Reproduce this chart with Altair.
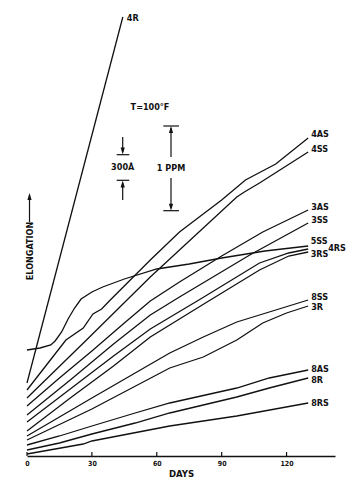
import altair as alt
import pandas as pd

# ---------------- data (elongation in arbitrary units, 84 units = 1 PPM) ----------------
days_4R = [0, 44.3]
elong_4R = [73, 439]
days_5SS = [0, 6, 11, 13, 16, 19, 22, 25, 30, 35, 45, 60, 75, 90, 110, 130]
elong_5SS = [106, 108, 111, 115, 124, 137, 148, 157, 164, 169, 177, 187, 192, 198, 205, 210]
days_4AS = [0, 9, 18, 26, 30.5, 34.5, 38.5, 57, 70.5, 90, 101, 115, 130]
elong_4AS = [66, 91, 116, 128, 142, 147, 156, 196, 224, 256, 276, 292, 318]
days_4SS = [0, 27.5, 57, 70.5, 97, 100.5, 107.5, 130]
elong_4SS = [58, 116, 179, 206, 259, 264, 273, 304]
days_3AS = [0, 15, 30, 45, 57, 70.5, 90, 109, 130]
elong_3AS = [50, 78, 105, 133, 155, 174, 200, 224, 246]
days_3SS = [0, 20, 40, 57, 70.5, 103, 130]
elong_3SS = [41, 76, 112, 141, 159, 201, 233]
days_4RS = [0, 20, 40, 57, 81, 107.5, 121, 130]
elong_4RS = [34, 67, 100, 127, 158, 193, 203, 207]
days_3RS = [0, 20, 40, 57, 81, 107.5, 121, 130]
elong_3RS = [25, 58, 90, 119, 151, 186, 200, 204]
days_8SS = [0, 30, 66, 81.5, 97, 112, 130]
elong_8SS = [20, 58, 103, 119, 134, 144, 156]
days_3R = [0, 30, 66, 81.5, 97, 109, 120, 130]
elong_3R = [16, 47, 88, 99, 116, 133, 143, 150]
days_8AS = [0, 15, 30, 50, 66, 97, 112, 130]
elong_8AS = [11, 20, 30, 43, 53, 68, 78, 86]
days_8R = [0, 15, 30, 50, 66, 97, 112, 130]
elong_8R = [6, 13, 22, 33, 43, 59, 68, 78]
days_8RS = [0, 26, 30, 66, 97, 130]
elong_8RS = [2, 12, 15, 30, 40, 53]

day_ticks = [0, 30, 60, 90, 120]

series = {
    "4R": (days_4R, elong_4R), "5SS": (days_5SS, elong_5SS),
    "4AS": (days_4AS, elong_4AS), "4SS": (days_4SS, elong_4SS),
    "3AS": (days_3AS, elong_3AS), "3SS": (days_3SS, elong_3SS),
    "4RS": (days_4RS, elong_4RS), "3RS": (days_3RS, elong_3RS),
    "8SS": (days_8SS, elong_8SS), "3R": (days_3R, elong_3R),
    "8AS": (days_8AS, elong_8AS), "8R": (days_8R, elong_8R),
    "8RS": (days_8RS, elong_8RS),
}

# ---------------- layout / style ----------------
W, H = 308, 456
X_MAX, Y_MAX = 142.4, 456
PX_PER_DAY = W / X_MAX
PX_PER_UNIT = H / Y_MAX
INK = "#111111"
FONT = "Liberation Sans Narrow, DejaVu Sans Condensed, Arial Narrow, sans-serif"

# label offsets in pixels (right, down)
label_off = {
    "4R": (4, 1), "5SS": (2.5, -5), "4AS": (3, -3.7), "4SS": (3, -3),
    "3AS": (3, -2.7), "3SS": (3, -2.6), "4RS": (20, -1.5), "3RS": (2.5, 1.5),
    "8SS": (3, -3.5), "3R": (3, 0.5), "8AS": (3, -1.5), "8R": (3, 1.5), "8RS": (3, 0.3),
}

rows = []
for name, (dd, ee) in series.items():
    for d, e in zip(dd, ee):
        rows.append({"series": name, "day": d, "elong": e})
df = pd.DataFrame(rows)

lab_rows = []
for name, (dd, ee) in series.items():
    ox, oy = label_off[name]
    lab_rows.append({"series": name,
                     "day": dd[-1] + ox / PX_PER_DAY,
                     "elong": ee[-1] - oy / PX_PER_UNIT})
labels = pd.DataFrame(lab_rows)

xs = alt.Scale(domain=[0, X_MAX], nice=False, zero=False)
ys = alt.Scale(domain=[0, Y_MAX], nice=False, zero=False)
x_axis = alt.Axis(values=day_ticks, title="DAYS", grid=False, ticks=False,
                  domainColor=INK, domainWidth=1.6, labelColor=INK,
                  labelFont=FONT, labelFontSize=7, labelFontWeight="bold",
                  labelPadding=3, titleFont=FONT, titleFontSize=9.5,
                  titleFontWeight="bold", titleColor=INK, titlePadding=2,
                  labelFlush=False)


def px_day(ax):
    return (ax - 27) / PX_PER_DAY


def px_el(ay):
    return (456 - ay) / PX_PER_UNIT


def X(field):
    return alt.X(field, scale=xs, axis=x_axis)


def Y(field):
    return alt.Y(field, scale=ys, axis=None)


lines = alt.Chart(df).mark_line(color=INK, strokeWidth=1.3).encode(
    x=X("day:Q"), y=Y("elong:Q"), detail="series:N", order="day:Q",
)

tick_df = pd.DataFrame({"day": day_ticks, "y0": [0] * len(day_ticks),
                        "y1": [4 / PX_PER_UNIT] * len(day_ticks)})
ticks = alt.Chart(tick_df).mark_rule(color=INK, strokeWidth=1.2).encode(
    x=X("day:Q"), y=Y("y0:Q"), y2="y1:Q",
)

label_layer = alt.Chart(labels).mark_text(
    align="left", baseline="middle", font=FONT, fontSize=9, fontWeight="bold", color=INK
).encode(x=X("day:Q"), y=Y("elong:Q"), text="series:N")

# ---------------- annotations (scale bars, temperature, axis caption) ----------------
x300 = px_day(122.7)
xppm = px_day(171)
rules_df = pd.DataFrame([
    # 300 Å bar
    {"day": px_day(116.7), "x2": px_day(129.3), "elong": px_el(154.7), "y2": px_el(154.7)},
    {"day": px_day(116.7), "x2": px_day(129.3), "elong": px_el(180.3), "y2": px_el(180.3)},
    {"day": x300, "x2": x300, "elong": px_el(137), "y2": px_el(152)},
    {"day": x300, "x2": x300, "elong": px_el(183), "y2": px_el(200)},
    # 1 PPM bar
    {"day": px_day(163.3), "x2": px_day(179), "elong": px_el(126), "y2": px_el(126)},
    {"day": px_day(163.3), "x2": px_day(179), "elong": px_el(210.7), "y2": px_el(210.7)},
    {"day": xppm, "x2": xppm, "elong": px_el(128), "y2": px_el(157)},
    {"day": xppm, "x2": xppm, "elong": px_el(178), "y2": px_el(208)},
    # elongation arrow
    {"day": px_day(29.5), "x2": px_day(29.5), "elong": px_el(195), "y2": px_el(222)},
])
ann_rules = alt.Chart(rules_df).mark_rule(color=INK, strokeWidth=1.2).encode(
    x=X("day:Q"), x2="x2:Q", y=Y("elong:Q"), y2="y2:Q",
)

up_path = "M0,-1L0.6,1L-0.6,1Z"
down_path = "M0,1L0.6,-1L-0.6,-1Z"
heads_up = pd.DataFrame([
    {"day": x300, "elong": px_el(184)},
    {"day": xppm, "elong": px_el(129.5)},
    {"day": px_day(29.5), "elong": px_el(196.5)},
])
heads_down = pd.DataFrame([
    {"day": x300, "elong": px_el(151)},
    {"day": xppm, "elong": px_el(207.2)},
])
arr_up = alt.Chart(heads_up).mark_point(shape=up_path, size=49, filled=True, color=INK, opacity=1).encode(
    x=X("day:Q"), y=Y("elong:Q"))
arr_down = alt.Chart(heads_down).mark_point(shape=down_path, size=49, filled=True, color=INK, opacity=1).encode(
    x=X("day:Q"), y=Y("elong:Q"))

texts_df = pd.DataFrame([
    {"day": px_day(150), "elong": px_el(107), "t": "T=100°F"},
    {"day": x300, "elong": px_el(167), "t": "300Å"},
    {"day": xppm, "elong": px_el(168), "t": "1 PPM"},
])
ann_text = alt.Chart(texts_df).mark_text(
    align="center", baseline="middle", font=FONT, fontSize=9, fontWeight="bold", color=INK
).encode(x=X("day:Q"), y=Y("elong:Q"), text="t:N")

elong_label = alt.Chart(pd.DataFrame([{"day": px_day(29.5), "elong": px_el(251), "t": "ELONGATION"}])).mark_text(
    align="center", baseline="middle", angle=270, font=FONT, fontSize=9, fontWeight="bold", color=INK
).encode(x=X("day:Q"), y=Y("elong:Q"), text="t:N")

chart = alt.layer(
    lines, ticks, label_layer, ann_rules, arr_up, arr_down, ann_text, elong_label
).properties(
    width=W, height=H,
    autosize=alt.AutoSizeParams(type="none"),
    padding={"left": 27, "right": 27, "top": 0, "bottom": 26},
    background="white",
).configure_view(stroke=None)

chart.save("out.html", embed_options={"renderer": "svg", "actions": False})
